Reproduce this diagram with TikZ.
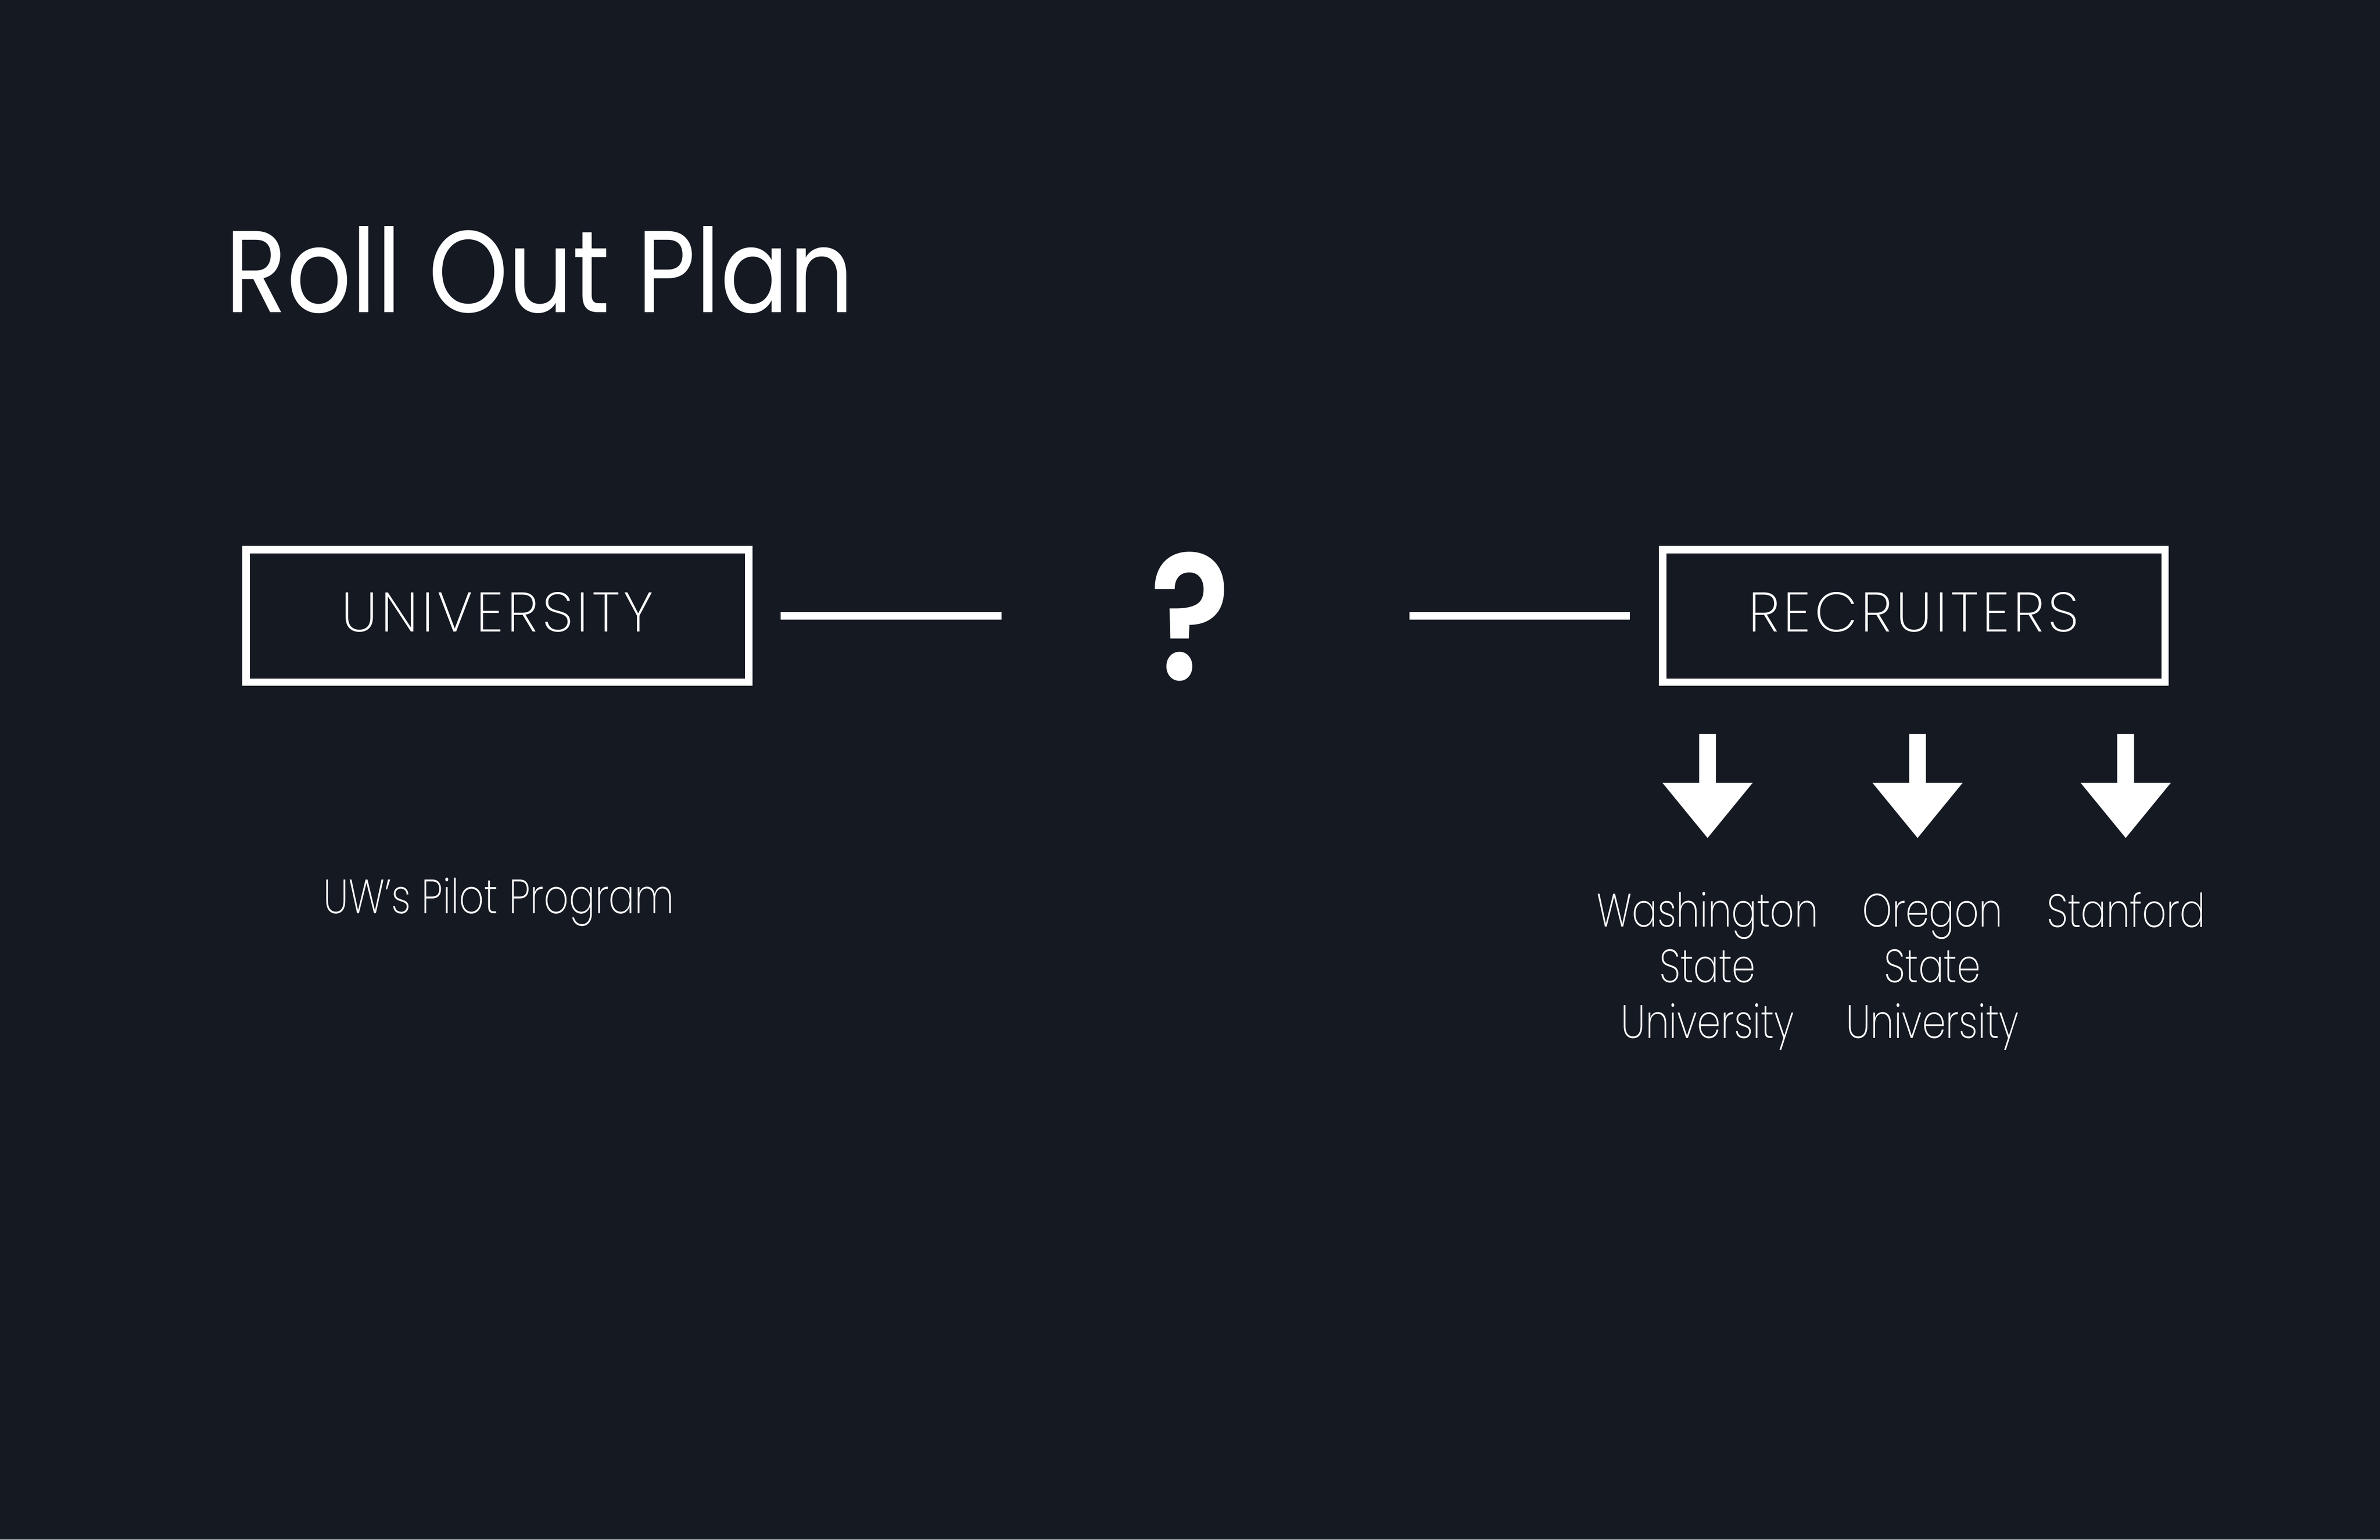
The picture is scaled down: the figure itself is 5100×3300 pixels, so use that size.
\documentclass[tikz,border=0pt]{standalone}
\usepackage{fontspec}
\setmainfont{Poppins}
\newfontfamily\titlefont[FakeStretch=0.87]{Poppins}
\newfontfamily\markfont[FakeStretch=0.85]{Poppins SemiBold}
\newfontfamily\boxfont[LetterSpace=6.5]{Poppins ExtraLight}
\newfontfamily\labelfont[FakeStretch=0.81]{Poppins ExtraLight}
\definecolor{bgdark}{HTML}{151922}
\begin{document}
\begin{tikzpicture}[x=0.1mm,y=-0.1mm,
	planbox/.style={draw=white,line width=1.6mm,minimum width=107.7mm,minimum height=28.4mm,
		inner sep=0pt,outer sep=0pt,text=white,font=\boxfont\fontsize{34}{40}\selectfont,
		text height=23.7pt,text depth=1.6mm},
	sublabel/.style={text=white,align=center,inner sep=0pt,font=\labelfont\fontsize{28.5}{33.9}\selectfont},
	link/.style={draw=white,line width=1.7mm}]
	\fill[bgdark] (0,0) rectangle (5100,3300);
	\node[anchor=base west,inner sep=0pt,text=white,font=\titlefont\fontsize{71}{80}\selectfont] (title) at (482,670) {Roll Out Plan};
	\node[planbox] (uni) at (1066,1320) {UNIVERSITY};
	\node[planbox] (rec) at (4101,1320) {RECRUITERS};
	\node[anchor=base,inner sep=0pt,outer sep=0pt,text=white,font=\markfont\fontsize{108}{120}\selectfont] (q) at (2551,1457) {?};
	\draw[link,shorten <=6.8mm,shorten >=40.5mm] (uni.east) -- (uni.east -| q.center);
	\draw[link,shorten <=46.9mm,shorten >=7mm] (rec.west -| q.center) -- (rec.west);
	% the three block arrows under the recruiters
	\foreach \n/\x in {1/3659,2/4109,3/4555}{
		\coordinate (arr\n) at (\x,1573);
		\fill[white] (arr\n) ++(-18,0) -- ++(0,105) -- ++(-78.5,0) -- ++(96.5,118) -- ++(96.5,-118) -- ++(-78.5,0) -- ++(0,-105) -- cycle;
	}
	\node[sublabel,anchor=base] (wsu) at (3659,2225) {Washington\\State\\University};
	\node[sublabel,anchor=base] (osu) at (4141,2225) {Oregon\\State\\University};
	\node[sublabel,anchor=base] (su) at (4556,1987) {Stanford};
	\node[sublabel,anchor=base,font=\labelfont\fontsize{29.3}{33.9}\selectfont] (uw) at (1069,1958) {UW’s Pilot Program};
\end{tikzpicture}
\end{document}
